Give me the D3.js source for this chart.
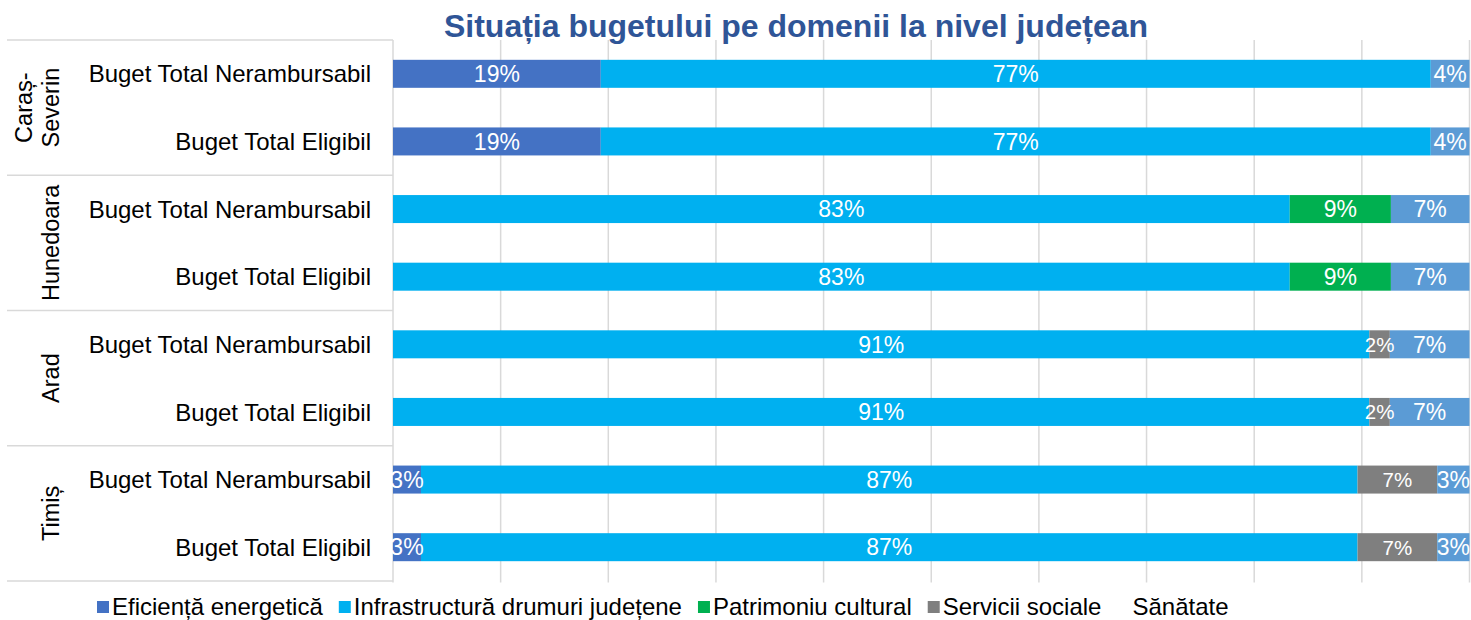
<!DOCTYPE html>
<html><head><meta charset="utf-8">
<script src="https://cdn.jsdelivr.net/npm/d3@7"></script>
<style>html,body{margin:0;padding:0;background:#fff;overflow:hidden}</style>
</head><body>
<svg id="chart" width="1471" height="620"></svg>
<script>
// ---- data ----
const title = "Situația bugetului pe domenii la nivel județean";
const groups = ["Caraș-Severin", "Hunedoara", "Arad", "Timiș"];
const rowTypes = ["Buget Total Nerambursabil", "Buget Total Eligibil"];
const seriesNames = ["Eficiență energetică", "Infrastructură drumuri județene", "Patrimoniu cultural", "Servicii sociale", "Sănătate"];
const seriesColors = ["#4472C4", "#00B0F0", "#00B050", "#7F7F7F", "#5B9BD5"];
// values in % per row (rows: group x rowType, top to bottom)
const eficienta  = [19.3, 19.3, 0, 0, 0, 0, 2.6, 2.6];
const infra      = [77.1, 77.1, 83.3, 83.3, 90.7, 90.7, 87.0, 87.0];
const patrimoniu = [0, 0, 9.4, 9.4, 0, 0, 0, 0];
const servicii   = [0, 0, 0, 0, 1.9, 1.9, 7.4, 7.4];
const sanatate   = [3.6, 3.6, 7.3, 7.3, 7.4, 7.4, 3.0, 3.0];
const xTicks = [0, 10, 20, 30, 40, 50, 60, 70, 80, 90, 100];

// ---- build ----
(function () {
const seriesVals = [eficienta, infra, patrimoniu, servicii, sanatate];
const rows = [];
groups.forEach((g, gi) => rowTypes.forEach((t, ti) => rows.push({key: gi + "|" + ti, group: g, type: t, idx: gi * 2 + ti})));
const table = rows.map(r => {
  const o = {key: r.key};
  seriesNames.forEach((s, si) => o[s] = seriesVals[si][r.idx]);
  return o;
});
const stack = d3.stack().keys(seriesNames)(table);

const svg = d3.select("#chart");
const FONT = "'Liberation Sans', Arial, sans-serif";
const pLeft = 393, pRight = 1469.5, pTop = 40, pBottom = 581;

const x = d3.scaleLinear().domain([0, 100]).range([pLeft, pRight]);
const y = d3.scaleBand().domain(rows.map(r => r.key)).range([pTop, pBottom]).paddingInner(0.586).paddingOuter(0.293);
const grid = "#D9D9D9";

// gridlines
svg.append("g").selectAll("line").data(xTicks).join("line")
  .attr("x1", d => x(d)).attr("x2", d => x(d))
  .attr("y1", pTop).attr("y2", pBottom + 1.5)
  .attr("stroke", grid).attr("stroke-width", 1.5);

// group separator lines in label area
const sepY = [pTop].concat(groups.map((g, gi) => y(gi + "|1") + y.bandwidth() + y.step() * y.paddingInner() / 2));
sepY[sepY.length - 1] = pBottom;
svg.append("g").selectAll("line").data(sepY).join("line")
  .attr("x1", 7).attr("x2", pLeft)
  .attr("y1", d => d).attr("y2", d => d)
  .attr("stroke", grid).attr("stroke-width", 1.5);

// bars
const layers = svg.append("g").selectAll("g").data(stack).join("g")
  .attr("fill", (d, i) => seriesColors[i]);
layers.selectAll("rect").data(d => d).join("rect")
  .attr("x", d => x(d[0]))
  .attr("y", d => y(d.data.key))
  .attr("width", d => x(d[1]) - x(d[0]))
  .attr("height", y.bandwidth());

// bar labels
stack.forEach((layer, si) => {
  svg.append("g").selectAll("text").data(layer.filter(d => d[1] - d[0] > 0)).join("text")
    .attr("x", d => (x(d[0]) + x(d[1])) / 2)
    .attr("y", d => y(d.data.key) + y.bandwidth() / 2)
    .attr("dy", "0.36em")
    .attr("text-anchor", "middle")
    .attr("font-family", FONT)
    .attr("font-size", si === 3 ? 20.5 : 23)
    .attr("fill", "#fff")
    .text(d => Math.round(d[1] - d[0]) + "%");
});

// category labels
svg.append("g").selectAll("text").data(rows).join("text")
  .attr("x", 371)
  .attr("y", d => y(d.key) + y.bandwidth() / 2)
  .attr("dy", "0.36em")
  .attr("text-anchor", "end")
  .attr("font-family", FONT).attr("font-size", 24).attr("fill", "#000")
  .text(d => d.type);

// group labels (rotated)
groups.forEach((g, gi) => {
  const cy = (y(gi + "|0") + y(gi + "|1") + y.bandwidth()) / 2;
  const t = svg.append("text")
    .attr("transform", `translate(59,${cy}) rotate(-90)`)
    .attr("text-anchor", "middle")
    .attr("font-family", FONT).attr("font-size", 23.5).attr("fill", "#000");
  const parts = g === "Caraș-Severin" ? ["Caraș-", "Severin"] : [g];
  parts.forEach((p, pi) => t.append("tspan").attr("x", 0).attr("y", (pi - (parts.length - 1)) * 27).text(p));
});

// title
svg.append("text")
  .attr("x", 796).attr("y", 37)
  .attr("text-anchor", "middle")
  .attr("font-family", FONT).attr("font-size", 32).attr("font-weight", "bold")
  .attr("fill", "#2F5597")
  .text(title);

// legend
const lg = svg.append("g");
let lx = 97;
const ly = 615;
seriesNames.forEach((s, si) => {
  const last = si === seriesNames.length - 1;
  const txt = lg.append("text")
    .attr("x", lx + 15).attr("y", ly)
    .attr("font-family", FONT).attr("font-size", 24).attr("fill", "#000")
    .text(s);
  lg.append("rect")
    .attr("x", lx).attr("y", 601).attr("width", 12).attr("height", 12)
    .attr("fill", last ? "#fff" : seriesColors[si]);
  lx += 15 + txt.node().getComputedTextLength() + 16;
});
})();
</script>
</body></html>
